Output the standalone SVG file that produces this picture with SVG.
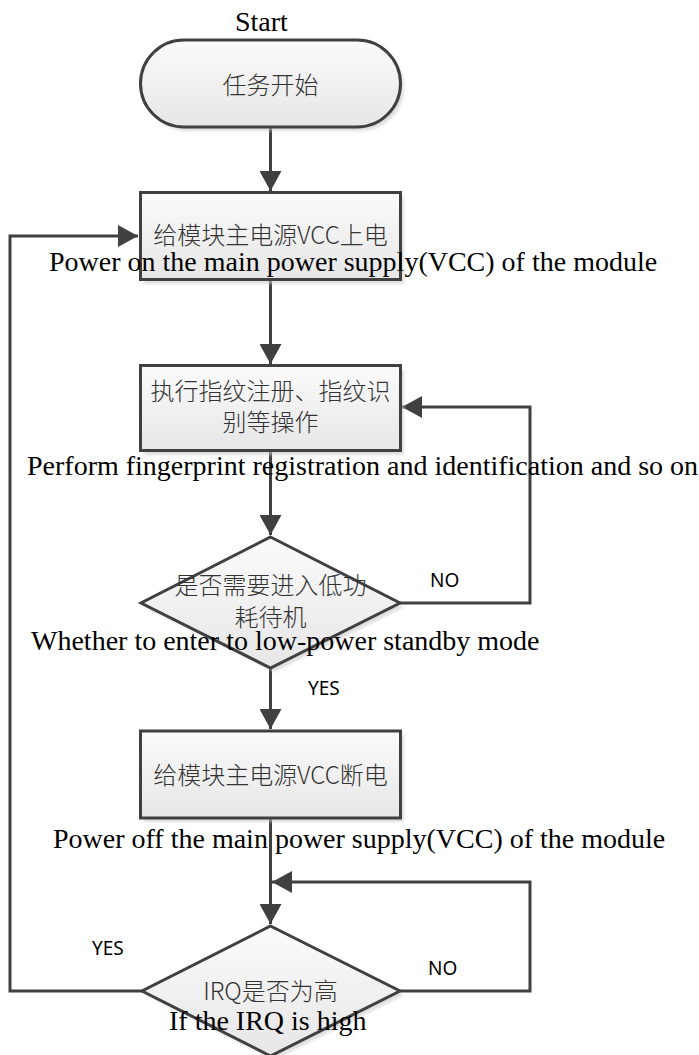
<svg xmlns="http://www.w3.org/2000/svg" width="699" height="1055" viewBox="0 0 699 1055">
<style>
.shape{fill:url(#g);stroke:#404040;stroke-width:3}
.shadow{fill:#c8c8c8;opacity:0.6;filter:url(#blur)}
.cn{font-family:"Noto Sans CJK SC","Noto Sans",sans-serif;font-size:24px;font-weight:300;fill:#333;text-anchor:middle}
.en{font-family:"Liberation Serif","Times New Roman",serif;font-size:28px;fill:#000}
.lbl{font-family:"Noto Sans","Open Sans",sans-serif;font-size:19px;fill:#000}
.conn{fill:none;stroke:#404040;stroke-width:3}
</style>
<defs>
<linearGradient id="g" x1="0" y1="0" x2="0" y2="1">
<stop offset="0" stop-color="#fbfbfb"/>
<stop offset="1" stop-color="#e6e6e6"/>
</linearGradient>
<filter id="blur" x="-10%" y="-10%" width="120%" height="120%"><feGaussianBlur stdDeviation="1.5"/></filter>
<marker id="arr" markerUnits="userSpaceOnUse" markerWidth="22" markerHeight="22" refX="20" refY="11" orient="auto">
<path d="M0,0 L20,11 L0,22 z" fill="#404040"/>
</marker>
</defs>
<rect width="699" height="1055" fill="#fff"/>

<g id="connectors">
<path class="conn" d="M270.5,127 V191" marker-end="url(#arr)"/>
<path class="conn" d="M270.5,279 V364" marker-end="url(#arr)"/>
<path class="conn" d="M270.5,450 V535" marker-end="url(#arr)"/>
<path class="conn" d="M400,603 H530 V407 H402" marker-end="url(#arr)"/>
<path class="conn" d="M270.5,668 V729" marker-end="url(#arr)"/>
<path class="conn" d="M270.5,818 V924" marker-end="url(#arr)"/>
<path class="conn" d="M400,991 H530 V882 H272" marker-end="url(#arr)"/>
<path class="conn" d="M142,991 H10 V236 H138" marker-end="url(#arr)"/>
<text class="lbl" x="430" y="587">NO</text>
<text class="lbl" x="308" y="695">YES</text>
<text class="lbl" x="92" y="955">YES</text>
<text class="lbl" x="428" y="975">NO</text>
</g>

<g id="start">
<text class="en" x="235" y="31">Start</text>
<rect class="shadow" x="144" y="44" width="260" height="87" rx="43.5"/>
<rect class="shape" x="140.5" y="40" width="260" height="87" rx="43.5"/>
<text class="cn" x="270.5" y="94">任务开始</text>
</g>

<g id="power-on">
<rect class="shadow" x="144" y="197" width="260" height="87"/>
<rect class="shape" x="140.5" y="192.5" width="260" height="87"/>
<text class="cn" x="270.5" y="244">给模块主电源VCC上电</text>
<text class="en" x="49" y="271">Power on the main power supply(VCC) of the module</text>
</g>

<g id="perform">
<rect class="shadow" x="144" y="370" width="260" height="85"/>
<rect class="shape" x="140.5" y="365.5" width="260" height="85"/>
<text class="cn" x="270.5" y="400">执行指纹注册、指纹识</text>
<text class="cn" x="270.5" y="431">别等操作</text>
<text class="en" x="27" y="475">Perform fingerprint registration and identification and so on</text>
</g>

<g id="standby-decision">
<polygon class="shadow" points="274,541 404,607 274,672 145,607"/>
<polygon class="shape" points="270.5,537 400,603 270.5,668 141,603"/>
<text class="cn" x="270.5" y="594">是否需要进入低功</text>
<text class="cn" x="270.5" y="626">耗待机</text>
<text class="en" x="31" y="650">Whether to enter to low-power standby mode</text>
</g>

<g id="power-off">
<rect class="shadow" x="144" y="735" width="260" height="87"/>
<rect class="shape" x="140.5" y="731" width="260" height="87"/>
<text class="cn" x="270.5" y="784">给模块主电源VCC断电</text>
<text class="en" x="53" y="848">Power off the main power supply(VCC) of the module</text>
</g>

<g id="irq-decision">
<polygon class="shadow" points="274,930 404,995 274,1060 146,995"/>
<polygon class="shape" points="270.5,926 400,991 270.5,1056 142,991"/>
<text class="cn" x="270.5" y="1000">IRQ是否为高</text>
<text class="en" x="169" y="1030">If the IRQ is high</text>
</g>
</svg>
